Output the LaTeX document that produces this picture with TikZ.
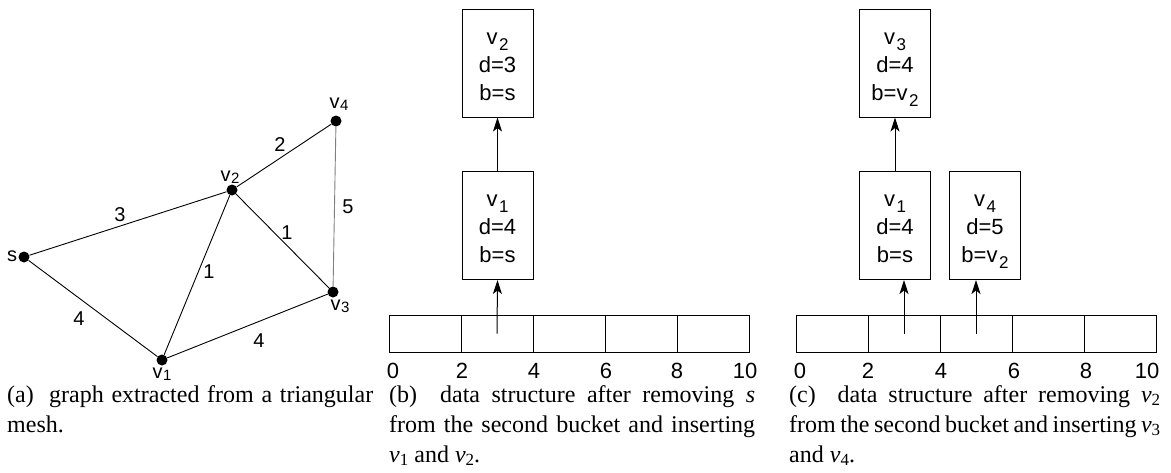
\documentclass[tikz,border=0pt]{standalone}
\usepackage{fontspec}
\setmainfont{Liberation Serif}
\newfontfamily\diagfont{Liberation Sans}
\usetikzlibrary{arrows.meta}
\newcommand\capv[1]{\textit{v}\raisebox{-0.3ex}{\fontsize{17}{17}\selectfont #1}}
\newcommand\gv[1]{v\kern0.5pt\raisebox{-2pt}{\fontsize{15}{15}\selectfont #1}}
\newcommand\bv[1]{v\kern1.5pt\raisebox{-6pt}{\fontsize{17}{17}\selectfont #1}}
\begin{document}
\begin{tikzpicture}[x=1pt,y=-1pt,
  vert/.style={circle,fill=black,inner sep=0pt,minimum size=11pt},
  edge/.style={line width=0.9pt},
  lab/.style={font=\diagfont\fontsize{20}{20}\selectfont,inner sep=0pt},
  axislab/.style={font=\diagfont\fontsize{22}{22}\selectfont,inner sep=0pt},
  cell/.style={draw,line width=1pt,minimum width=72pt,minimum height=37pt,inner sep=0pt},
  rec/.style={draw,line width=1pt,minimum width=71pt,minimum height=108pt,inner sep=0pt,align=center,
    text height=74pt,text depth=0pt,
    font=\diagfont\fontsize{22}{28}\selectfont},
  ptr/.style={-{Stealth[length=14pt,width=9pt,inset=3.5pt]},line width=1pt},
  captext/.style={font=\fontsize{24}{30}\selectfont,text width=366pt,align=justify,anchor=base west,inner sep=0pt}]
\useasboundingbox (0,0) rectangle (1171,472);

% ---------- (a) graph ----------
\node[vert] (s)  at (24,257) {};
\node[vert] (v1) at (162,360) {};
\node[vert] (v2) at (232,190) {};
\node[vert] (v3) at (333,292) {};
\node[vert] (v4) at (336,121) {};
\node[lab] (ls)  at (12,256) {s};
\node[lab] (lv1) at (162,374) {\gv{1}};
\node[lab] (lv2) at (230,177) {\gv{2}};
\node[lab] (lv3) at (340,306) {\gv{3}};
\node[lab] (lv4) at (339,104) {\gv{4}};
\draw[edge] (s) -- (v2);
\draw[edge] (s) -- (v1);
\draw[edge] (v1) -- (v2);
\draw[edge] (v2) -- (v3);
\draw[edge] (v2) -- (v4);
\draw[edge] (v1) -- (v3);
\draw[edge,gray] (v4) -- (v3);
\node[lab] (w1) at (120,215) {3};
\node[lab] (w2) at (280,145) {2};
\node[lab] (w3) at (348,207) {5};
\node[lab] (w4) at (287,233) {1};
\node[lab] (w5) at (209,272) {1};
\node[lab] (w6) at (79,319) {4};
\node[lab] (w7) at (259,341) {4};

% ---------- (b) ----------
\foreach \i/\x in {0/425,1/497,2/569,3/641,4/713}
  \node[cell] (b\i) at (\x,333.5) {};
\node[rec] (bv2) at (497.5,63) {\bv{2}\\d=3\\b=s};
\node[rec] (bv1) at (497.5,225.5) {\bv{1}\\d=4\\b=s};
\draw[ptr] (b1.center) -- (bv1.south);
\draw[ptr] (bv1.north) -- (bv2.south);
\foreach \n/\x in {0/393,2/462,4/534,6/606,8/677,10/745}
  \node[axislab] (bn\n) at (\x,371) {\n};

% ---------- (c) ----------
\foreach \i/\x in {0/832,1/904,2/976,3/1048,4/1120}
  \node[cell] (c\i) at (\x,333.5) {};
\node[rec] (cv3) at (895,63) {\bv{3}\\d=4\\b=\bv{2}};
\node[rec] (cv1) at (895,225.5) {\bv{1}\\d=4\\b=s};
\node[rec] (cv4) at (985,225.5) {\bv{4}\\d=5\\b=\bv{2}};
\draw[ptr] (c1.center) -- (c1.center |- cv1.south);
\draw[ptr] (c2.center) -- (c2.center |- cv4.south);
\draw[ptr] (cv1.north) -- (cv3.south);
\foreach \n/\x in {0/800,2/868,4/941,6/1014,8/1086,10/1147}
  \node[axislab] (cn\n) at (\x,371) {\n};

% ---------- captions ----------
\node[captext] (capa) at (7,402) {(a)\ \ graph extracted from a triangular mesh.};
\node[captext] (capb) at (389,402) {(b)\ \ data structure after removing \textit{s} from the second bucket and inserting \capv{1} and \capv{2}.};
\node[captext,text width=371pt] (capc) at (789,402) {(c)\ \ data structure after removing \capv{2} from the second bucket and inserting \capv{3} and \capv{4}.};
\end{tikzpicture}
\end{document}
